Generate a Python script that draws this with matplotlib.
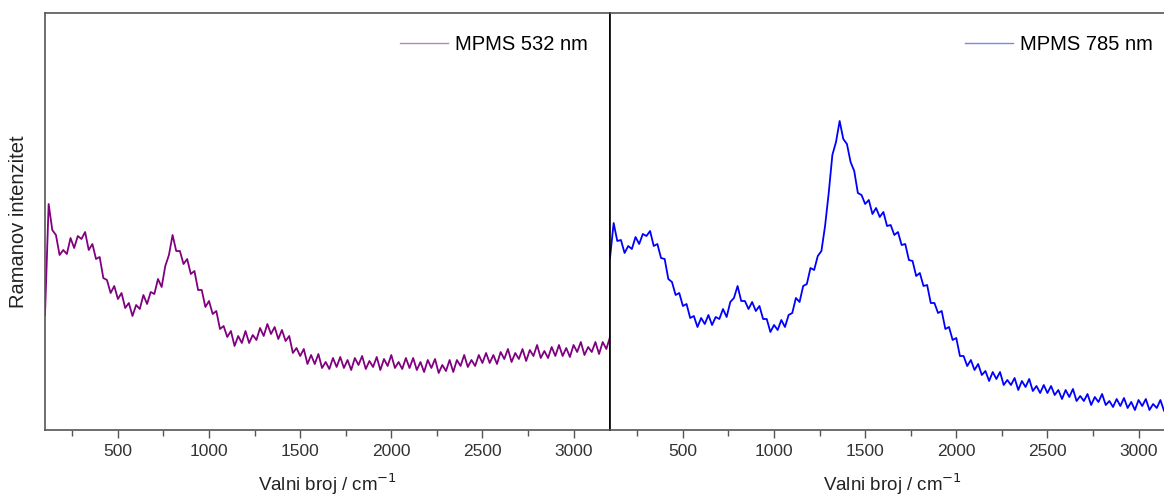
import numpy as np
import matplotlib.pyplot as plt

plt.rcParams['font.family'] = ['Liberation Sans', 'DejaVu Sans']

# wavenumbers (cm^-1), one reading every 20 cm^-1
wn = np.arange(100, 3201, 20)

# MPMS 532 nm, intensity in arbitrary units
i532 = [115, 226, 200, 195, 175, 180, 176, 192, 182, 194,
        191, 198, 180, 186, 171, 173, 152, 150, 137, 144,
        131, 137, 122, 127, 114, 125, 121, 135, 126, 138,
        136, 151, 143, 164, 175, 195, 179, 179, 166, 171,
        156, 159, 140, 140, 123, 129, 116, 119, 101, 104,
        93, 99, 84, 94, 87, 99, 87, 95, 90, 102,
        94, 106, 96, 103, 91, 100, 89, 94, 77, 82,
        74, 81, 66, 75, 66, 76, 62, 68, 61, 72,
        63, 73, 62, 70, 60, 72, 65, 74, 61, 69,
        63, 73, 60, 71, 64, 75, 62, 68, 61, 72,
        62, 72, 60, 68, 58, 70, 62, 71, 57, 65,
        59, 70, 58, 70, 64, 75, 63, 70, 64, 75,
        67, 77, 67, 75, 66, 78, 71, 81, 68, 77,
        71, 81, 69, 80, 74, 85, 72, 79, 72, 83,
        74, 85, 74, 82, 73, 85, 78, 88, 75, 83,
        78, 88, 76, 88, 81, 93]

# MPMS 785 nm
i785 = [172, 207, 189, 190, 177, 184, 181, 193, 186, 196,
        194, 199, 184, 186, 172, 171, 151, 148, 135, 137,
        124, 126, 112, 114, 103, 112, 106, 115, 105, 113,
        111, 121, 113, 128, 132, 144, 129, 129, 121, 128,
        119, 124, 111, 111, 98, 105, 100, 110, 103, 115,
        117, 132, 128, 144, 146, 162, 160, 174, 179, 204,
        237, 275, 288, 309, 291, 286, 268, 259, 237, 235,
        226, 230, 216, 222, 213, 218, 204, 205, 195, 198,
        185, 186, 170, 169, 154, 157, 144, 145, 127, 127,
        117, 119, 101, 103, 90, 92, 74, 74, 64, 70,
        60, 66, 55, 59, 49, 58, 51, 58, 45, 50,
        45, 52, 40, 49, 43, 51, 39, 44, 37, 45,
        37, 44, 35, 40, 31, 40, 33, 41, 29, 34,
        29, 36, 25, 33, 28, 36, 25, 29, 23, 31,
        24, 32, 22, 28, 20, 30, 24, 31, 20, 26,
        22, 30, 19, 28, 23, 32]

xlabel = 'Valni broj / cm$^{-1}$'
ylabel = 'Ramanov intenzitet'

fig = plt.figure(figsize=(11.64, 4.98), dpi=100)
ax1 = fig.add_axes([45/1164, 68/498, 565/1164, 417/498])
ax2 = fig.add_axes([610/1164, 68/498, 565/1164, 417/498])

spine_col = '#555555'
for ax, y, col, lab in [(ax1, i532, '#800080', 'MPMS 532 nm'),
                        (ax2, i785, '#0000ff', 'MPMS 785 nm')]:
    ax.plot(wn, y, color=col, lw=1.3, label=lab)
    ax.set_xlim(100, 3200)
    ax.set_ylim(0, 417)
    ax.set_xticks([500, 1000, 1500, 2000, 2500, 3000])
    ax.set_xticks([250, 750, 1250, 1750, 2250, 2750], minor=True)
    ax.set_yticks([])
    ax.tick_params(axis='x', which='major', direction='out', length=6, width=1,
                   color=spine_col, labelsize=12.5, labelcolor='#333333', pad=4)
    ax.tick_params(axis='x', which='minor', direction='out', length=4, width=1,
                   color=spine_col)
    for s in ax.spines.values():
        s.set_color(spine_col)
        s.set_linewidth(1.2)
    ax.set_xlabel(xlabel, fontsize=13.5, color='#222222', labelpad=9)
    leg = ax.legend(loc='upper right', frameon=False, fontsize=14.5,
                    handlelength=2.4, handletextpad=0.35,
                    borderaxespad=0.7)
    for h in leg.get_lines():
        h.set_alpha(0.5)
        h.set_linewidth(1.0)

ax1.spines['right'].set_color('black')
ax2.spines['left'].set_color('black')
ax1.set_ylabel(ylabel, fontsize=14.5, color='#222222', labelpad=12)

fig.savefig('out.png', dpi=100)
